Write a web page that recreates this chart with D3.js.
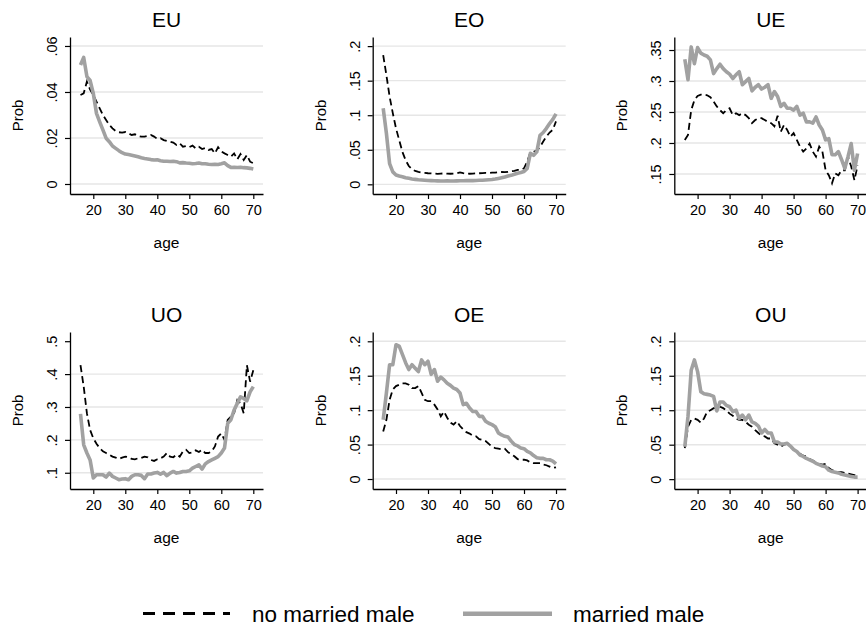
<!DOCTYPE html>
<html>
<head>
<meta charset="utf-8">
<script src="https://cdn.jsdelivr.net/npm/d3@7"></script>
<style>
  html, body { margin: 0; padding: 0; background: #fff; }
  svg { display: block; font-family: "Liberation Sans", Arial, Helvetica, sans-serif; }
</style>
</head>
<body>
<svg id="chart" width="866" height="628"></svg>
<script>
// Transition probabilities by age, for unmarried and married men.
const ages = [16,17,18,19,20,21,22,23,24,25,26,27,28,29,30,31,32,33,34,35,36,37,38,39,40,
  41,42,43,44,45,46,47,48,49,50,51,52,53,54,55,56,57,58,59,60,61,62,63,64,65,66,67,68,69,70];

const seriesNames = ["no married male", "married male"];
const panelTitles = ["EU", "EO", "UE", "UO", "OE", "OU"];

const euNoMarried = [.0387,.0394,.0445,.041,.0387,.0358,.0329,.030,.0278,.0257,.0242,.023,.0225,.0223,.0226,
  .022,.0213,.0216,.0209,.0206,.0206,.0209,.0213,.0206,.0196,.0199,.0191,.0187,.0184,.018,
  .017,.0177,.0162,.0165,.016,.0167,.0155,.0162,.0152,.0157,.0148,.0152,.0133,.016,.0141,
  .0133,.0126,.0119,.0133,.0107,.013,.0104,.0126,.0097,.009];
const euMarried = [.0517,.055,.0467,.045,.0394,.0307,.027,.0235,.0199,.0184,.0165,.0155,.0145,.0136,.013,
  .0128,.0125,.0122,.0118,.0114,.0111,.0109,.0106,.0104,.0105,.0101,.0099,.0099,.0098,.0099,
  .0097,.0092,.0093,.0091,.009,.0088,.0089,.0091,.0088,.0088,.0086,.0085,.0086,.0085,.0088,
  .0092,.008,.0072,.0073,.0072,.0073,.0071,.007,.0068,.0065];

const eoNoMarried = [.187,.158,.127,.103,.081,.064,.047,.035,.0265,.0217,.0193,.018,.017,.0165,.016,
  .0158,.0155,.0152,.0155,.0158,.0155,.0153,.0155,.016,.0173,.0162,.0155,.0153,.0155,.0158,
  .016,.0163,.0165,.0163,.0168,.017,.0175,.0178,.0176,.018,.019,.0195,.021,.021,.023,
  .033,.046,.047,.049,.054,.062,.069,.075,.079,.091];
const eoMarried = [.11,.074,.030,.018,.0135,.012,.011,.0096,.0087,.0078,.0072,.0066,.0062,.0058,.0055,
  .0053,.0052,.005,.0049,.0049,.005,.0049,.0049,.005,.0051,.0052,.0053,.0055,.0054,.0056,
  .0058,.006,.0063,.0066,.007,.0076,.0085,.0095,.0105,.012,.013,.0145,.016,.017,.0185,
  .023,.045,.042,.047,.071,.075,.081,.088,.094,.102];

const ueNoMarried = [.205,.213,.253,.269,.276,.278,.278,.277,.274,.267,.259,.253,.248,.253,.256,
  .245,.248,.245,.248,.245,.240,.232,.237,.240,.240,.237,.234,.232,.227,.244,
  .218,.229,.221,.210,.216,.205,.194,.186,.191,.199,.186,.178,.194,.186,.156,
  .148,.135,.151,.148,.156,.156,.178,.162,.140,.164];
const ueMarried = [.335,.302,.355,.328,.354,.345,.342,.340,.334,.312,.320,.327,.320,.315,.311,
  .304,.310,.315,.294,.299,.304,.284,.290,.294,.287,.290,.294,.272,.283,.275,
  .259,.264,.256,.256,.253,.259,.245,.248,.234,.234,.232,.242,.229,.221,.205,
  .207,.181,.181,.186,.173,.159,.178,.199,.156,.183];

const uoNoMarried = [.427,.362,.281,.230,.205,.188,.175,.165,.160,.155,.149,.146,.142,.146,.149,
  .147,.142,.141,.144,.145,.149,.147,.139,.136,.141,.144,.149,.160,.149,.147,
  .155,.149,.165,.170,.160,.162,.168,.163,.170,.160,.160,.165,.180,.210,.220,
  .200,.261,.271,.281,.321,.311,.281,.427,.377,.412];
const uoMarried = [.279,.185,.160,.139,.084,.094,.094,.094,.087,.099,.089,.084,.079,.081,.082,
  .079,.089,.094,.094,.092,.082,.096,.096,.099,.101,.096,.101,.091,.099,.104,
  .099,.101,.104,.104,.106,.114,.119,.124,.111,.127,.134,.139,.144,.149,.160,
  .175,.250,.261,.291,.311,.331,.326,.319,.346,.362];

const oeNoMarried = [.069,.086,.115,.130,.135,.137,.139,.139,.137,.132,.132,.135,.125,.115,.113,
  .113,.108,.101,.091,.098,.089,.082,.079,.084,.077,.072,.068,.066,.063,.062,
  .058,.057,.055,.051,.047,.045,.044,.043,.044,.039,.036,.033,.029,.028,.028,
  .027,.024,.023,.023,.023,.021,.020,.018,.016,.017];
const oeMarried = [.086,.125,.166,.166,.195,.193,.181,.169,.159,.166,.161,.156,.173,.166,.171,
  .152,.159,.142,.148,.144,.139,.136,.132,.130,.125,.108,.110,.103,.098,.098,
  .091,.091,.084,.081,.079,.076,.067,.064,.062,.061,.055,.050,.048,.045,.044,
  .040,.038,.034,.031,.030,.030,.028,.028,.026,.022];

const ouNoMarried = [.045,.076,.086,.088,.086,.082,.088,.098,.100,.103,.103,.105,.103,.100,.095,
  .092,.088,.086,.086,.083,.079,.076,.071,.067,.063,.062,.059,.059,.052,.050,
  .047,.050,.051,.047,.043,.040,.037,.034,.033,.029,.027,.024,.022,.021,.022,
  .016,.013,.011,.010,.010,.009,.008,.007,.006,.004];
const ouMarried = [.047,.091,.158,.173,.156,.127,.124,.123,.122,.120,.099,.112,.112,.107,.105,
  .098,.100,.088,.093,.086,.093,.083,.081,.077,.067,.072,.067,.067,.054,.054,
  .051,.051,.052,.048,.043,.040,.035,.033,.030,.028,.026,.023,.021,.019,.018,
  .013,.011,.010,.009,.007,.006,.005,.004,.003,.003];

// Axis tick values and their printed labels
const xTicks = [20, 30, 40, 50, 60, 70];
const euTicks = [0, .02, .04, .06];
const euLabels = ["0", ".02", ".04", ".06"];
const p2Ticks = [0, .05, .1, .15, .2];
const p2Labels = ["0", ".05", ".1", ".15", ".2"];
const ueTicks = [.15, .2, .25, .3, .35];
const ueLabels = [".15", ".2", ".25", ".3", ".35"];
const uoTicks = [.1, .2, .3, .4, .5];
const uoLabels = [".1", ".2", ".3", ".4", ".5"];
const uoGrid = [.1, .2, .3, .4];

const panels = [
  { title: panelTitles[0], no: euNoMarried, mar: euMarried, ticks: euTicks, labels: euLabels, grid: euTicks, ydom: [-0.00435, 0.0639] },
  { title: panelTitles[1], no: eoNoMarried, mar: eoMarried, ticks: p2Ticks, labels: p2Labels, grid: p2Ticks, ydom: [-0.014, 0.2132] },
  { title: panelTitles[2], no: ueNoMarried, mar: ueMarried, ticks: ueTicks, labels: ueLabels, grid: ueTicks, ydom: [0.1177, 0.371] },
  { title: panelTitles[3], no: uoNoMarried, mar: uoMarried, ticks: uoTicks, labels: uoLabels, grid: uoGrid, ydom: [0.0506, 0.528] },
  { title: panelTitles[4], no: oeNoMarried, mar: oeMarried, ticks: p2Ticks, labels: p2Labels, grid: p2Ticks, ydom: [-0.0145, 0.2135] },
  { title: panelTitles[5], no: ouNoMarried, mar: ouMarried, ticks: p2Ticks, labels: p2Labels, grid: p2Ticks, ydom: [-0.0143, 0.2135] }
];

const svg = d3.select("#chart");
svg.append("rect").attr("width", 866).attr("height", 628).attr("fill", "#fff");

const colLeft = [70, 372.7, 674.3];
const rowTop = [37, 332];
const plotW = 193, plotH = 157;
const grey = "#a1a1a1";

panels.forEach((p, i) => {
  const left = colLeft[i % 3];
  const top = rowTop[Math.floor(i / 3)];
  const bottom = top + plotH;
  const g = svg.append("g");

  const x = d3.scaleLinear().domain([12.72, 73.03]).range([left, left + plotW]);
  const y = d3.scaleLinear().domain(p.ydom).range([bottom, top]);

  // horizontal grid
  g.selectAll(".grid").data(p.grid).join("line")
    .attr("x1", left).attr("x2", left + plotW)
    .attr("y1", d => y(d)).attr("y2", d => y(d))
    .attr("stroke", "#e6e6e6").attr("stroke-width", 1.4);

  const line = d3.line().x((d, j) => x(ages[j])).y(d => y(d));

  g.append("path").datum(p.no).attr("d", line)
    .attr("fill", "none").attr("stroke", "#000").attr("stroke-width", 1.8)
    .attr("stroke-dasharray", "7,4");
  g.append("path").datum(p.mar).attr("d", line)
    .attr("fill", "none").attr("stroke", grey).attr("stroke-width", 3.6)
    .attr("stroke-linejoin", "round");

  // y axis
  const ya = g.append("g").attr("transform", `translate(${left},0)`)
    .call(d3.axisLeft(y).tickValues(p.ticks).tickSize(5).tickSizeOuter(0)
      .tickFormat((d, j) => p.labels[j]));
  ya.select(".domain").attr("stroke", "#000").attr("stroke-width", 1.3);
  ya.selectAll(".tick line").attr("stroke", "#000").attr("stroke-width", 1.2);
  ya.selectAll(".tick text")
    .attr("x", null).attr("dy", null)
    .attr("transform", "translate(-13,0) rotate(-90)")
    .attr("text-anchor", "middle")
    .attr("fill", "#000")
    .style("font-size", "14.5px")
    .style("font-family", "Liberation Sans, Arial, sans-serif");

  // x axis
  const xa = g.append("g").attr("transform", `translate(0,${bottom})`)
    .call(d3.axisBottom(x).tickValues(xTicks).tickSize(5).tickSizeOuter(0).tickFormat(d3.format("d")));
  xa.select(".domain").attr("stroke", "#000").attr("stroke-width", 1.3);
  xa.selectAll(".tick line").attr("stroke", "#000").attr("stroke-width", 1.2);
  xa.selectAll(".tick text")
    .attr("y", 21).attr("dy", null)
    .attr("fill", "#000")
    .style("font-size", "14.5px")
    .style("font-family", "Liberation Sans, Arial, sans-serif");

  // titles
  g.append("text").attr("x", left + plotW / 2).attr("y", top - 10)
    .attr("text-anchor", "middle").style("font-size", "21px").text(p.title);
  g.append("text").attr("x", left + plotW / 2).attr("y", bottom + 54)
    .attr("text-anchor", "middle").style("font-size", "15.5px").text("age");
  g.append("text")
    .attr("transform", `translate(${left - 47},${top + plotH / 2}) rotate(-90)`)
    .attr("text-anchor", "middle").style("font-size", "15px").text("Prob");
});

// legend
const legend = svg.append("g");
legend.append("line").attr("x1", 143).attr("x2", 230).attr("y1", 613.5).attr("y2", 613.5)
  .attr("stroke", "#000").attr("stroke-width", 3).attr("stroke-dasharray", "12,8");
legend.append("text").attr("x", 252).attr("y", 622).style("font-size", "22.5px").text(seriesNames[0]);
legend.append("line").attr("x1", 463).attr("x2", 552).attr("y1", 613.7).attr("y2", 613.7)
  .attr("stroke", grey).attr("stroke-width", 4.6);
legend.append("text").attr("x", 573).attr("y", 622).style("font-size", "22.5px").text(seriesNames[1]);
</script>
</body>
</html>
